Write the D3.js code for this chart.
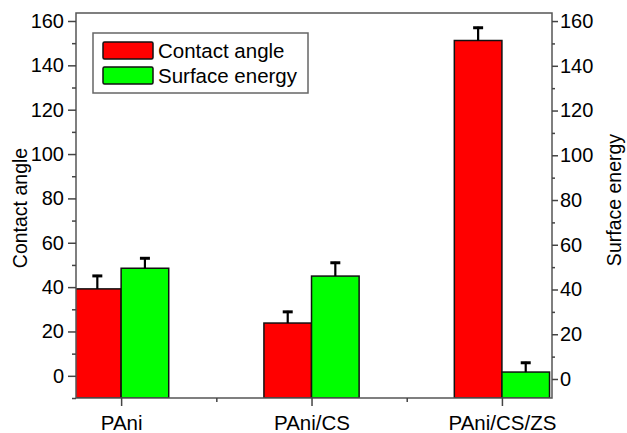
<!DOCTYPE html>
<html>
<head>
<meta charset="utf-8">
<script src="https://cdn.jsdelivr.net/npm/d3@7"></script>
<style>
  body { margin: 0; background: #fff; }
  text { font-family: Arial, "Liberation Sans", sans-serif; fill: #000; }
</style>
</head>
<body>
<div id="chart"></div>
<script>
// chart data
var samples = ["PAni", "PAni/CS", "PAni/CS/ZS"];
var contactAngle = [39.2, 23.8, 151.2];
var contactAngleErr = [6.3, 5.5, 6.2];
var surfaceEnergy = [49.5, 46.0, 3.1];
var surfaceEnergyErr = [4.9, 6.4, 4.6];
var leftTicks = [0, 20, 40, 60, 80, 100, 120, 140, 160];
var rightTicks = [0, 20, 40, 60, 80, 100, 120, 140, 160];
var seriesNames = ["Contact angle", "Surface energy"];

var svgWidth = 627;
var svgHeight = 433;

// plot frame
var frame = { left: 76, right: 552, top: 13, bottom: 398 };

var svg = d3.select("#chart")
  .append("svg")
  .attr("width", svgWidth)
  .attr("height", svgHeight);

// scales
var x = d3.scaleLinear()
  .domain([0.763, 3.263])
  .range([frame.left, frame.right]);

var yLeft = d3.scaleLinear()
  .domain([-10, 163.6])
  .range([frame.bottom, frame.top]);

var yRight = d3.scaleLinear()
  .domain([-8.5, 163.6])
  .range([frame.bottom, frame.top]);

var barW = 0.25;

svg.append("clipPath")
  .attr("id", "plotClip")
  .append("rect")
  .attr("x", frame.left)
  .attr("y", frame.top)
  .attr("width", frame.right - frame.left)
  .attr("height", frame.bottom - frame.top);

var plot = svg.append("g").attr("clip-path", "url(#plotClip)");

// red bars (left axis)
plot.selectAll("rect.ca")
  .data(contactAngle)
  .enter()
  .append("rect")
  .attr("class", "ca")
  .attr("x", (d, i) => x(i + 1 - barW))
  .attr("width", (d, i) => x(i + 1) - x(i + 1 - barW))
  .attr("y", d => yLeft(d))
  .attr("height", d => frame.bottom - yLeft(d))
  .attr("fill", "#ff0000")
  .attr("stroke", "#111")
  .attr("stroke-width", 1.5);

// green bars (right axis)
plot.selectAll("rect.se")
  .data(surfaceEnergy)
  .enter()
  .append("rect")
  .attr("class", "se")
  .attr("x", (d, i) => x(i + 1))
  .attr("width", (d, i) => x(i + 1 + barW) - x(i + 1))
  .attr("y", d => yRight(d))
  .attr("height", d => frame.bottom - yRight(d))
  .attr("fill", "#00ff00")
  .attr("stroke", "#111")
  .attr("stroke-width", 1.5);

// error bars, upper half only
function errorBars(values, errs, scale, offset) {
  values.forEach(function(v, i) {
    var cx = x(i + 1 + offset);
    var top = scale(v + errs[i]);
    svg.append("line")
      .attr("x1", cx).attr("x2", cx)
      .attr("y1", scale(v)).attr("y2", top)
      .attr("stroke", "#000").attr("stroke-width", 2.2);
    svg.append("line")
      .attr("x1", cx - 5).attr("x2", cx + 5)
      .attr("y1", top + 1).attr("y2", top + 1)
      .attr("stroke", "#000").attr("stroke-width", 3);
  });
}
errorBars(contactAngle, contactAngleErr, yLeft, -barW / 2);
errorBars(surfaceEnergy, surfaceEnergyErr, yRight, barW / 2);

// frame
svg.append("rect")
  .attr("x", frame.left)
  .attr("y", frame.top)
  .attr("width", frame.right - frame.left)
  .attr("height", frame.bottom - frame.top)
  .attr("fill", "none")
  .attr("stroke", "#555")
  .attr("stroke-width", 1.5);

// left axis
var leftAxis = svg.append("g")
  .attr("transform", `translate(${frame.left}, 0)`)
  .call(d3.axisLeft(yLeft).tickValues(leftTicks).tickSize(8).tickPadding(4));
leftAxis.select(".domain").remove();
leftAxis.selectAll("line").attr("stroke", "#444").attr("stroke-width", 1.5);
leftAxis.selectAll("text").style("font-size", "20px");
svg.append("g")
  .attr("transform", `translate(${frame.left}, 0)`)
  .call(d3.axisLeft(yLeft).tickValues(d3.range(-10, 161, 20)).tickSize(4).tickFormat(""))
  .call(g => g.select(".domain").remove())
  .selectAll("line").attr("stroke", "#444").attr("stroke-width", 1.5);

// right axis
var rightAxis = svg.append("g")
  .attr("transform", `translate(${frame.right}, 0)`)
  .call(d3.axisRight(yRight).tickValues(rightTicks).tickSize(6).tickPadding(2));
rightAxis.select(".domain").remove();
rightAxis.selectAll("line").attr("stroke", "#444").attr("stroke-width", 1.5);
rightAxis.selectAll("text").style("font-size", "20px");
svg.append("g")
  .attr("transform", `translate(${frame.right}, 0)`)
  .call(d3.axisRight(yRight).tickValues(d3.range(10, 151, 20)).tickSize(3).tickFormat(""))
  .call(g => g.select(".domain").remove())
  .selectAll("line").attr("stroke", "#444").attr("stroke-width", 1.5);

// bottom axis
var bottomAxis = svg.append("g")
  .attr("transform", `translate(0, ${frame.bottom})`)
  .call(d3.axisBottom(x).tickValues([1, 2, 3]).tickSize(8).tickPadding(9)
    .tickFormat((d, i) => samples[i]));
bottomAxis.select(".domain").remove();
bottomAxis.selectAll("line").attr("stroke", "#444").attr("stroke-width", 1.5);
bottomAxis.selectAll("text").style("font-size", "20.5px");
svg.append("g")
  .attr("transform", `translate(0, ${frame.bottom})`)
  .call(d3.axisBottom(x).tickValues([1.5, 2.5]).tickSize(4).tickFormat(""))
  .call(g => g.select(".domain").remove())
  .selectAll("line").attr("stroke", "#444").attr("stroke-width", 1.5);

// axis titles
svg.append("text")
  .attr("transform", "translate(27, 208) rotate(-90)")
  .attr("text-anchor", "middle")
  .style("font-size", "19.5px")
  .text("Contact angle");

svg.append("text")
  .attr("transform", "translate(621, 200) rotate(-90)")
  .attr("text-anchor", "middle")
  .style("font-size", "19.5px")
  .text("Surface energy");

// legend
var legend = svg.append("g");
legend.append("rect")
  .attr("x", 93).attr("y", 33)
  .attr("width", 215).attr("height", 60)
  .attr("fill", "#fff")
  .attr("stroke", "#666")
  .attr("stroke-width", 1.5);

var legendColors = ["#ff0000", "#00ff00"];
seriesNames.forEach(function(name, i) {
  legend.append("rect")
    .attr("x", 103).attr("y", 42 + i * 25)
    .attr("width", 50).attr("height", 17)
    .attr("rx", 1.5)
    .attr("fill", legendColors[i])
    .attr("stroke", "#111")
    .attr("stroke-width", 1.5);
  legend.append("text")
    .attr("x", 158).attr("y", 58 + i * 25)
    .style("font-size", "20.5px")
    .text(name);
});
</script>
</body>
</html>
